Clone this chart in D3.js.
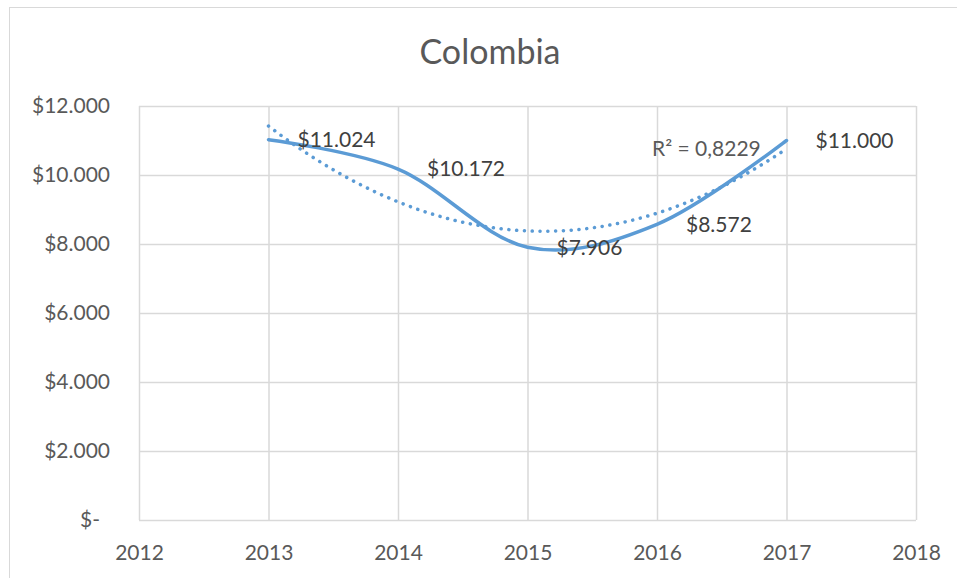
<!DOCTYPE html>
<html>
<head>
<meta charset="utf-8">
<script src="https://cdn.jsdelivr.net/npm/d3@7"></script>
<style>
  body { margin: 0; background: #fff; }
  text { font-family: Lato, "Liberation Sans", sans-serif; fill: #595959; }
</style>
</head>
<body>
<script>
var years = [2013, 2014, 2015, 2016, 2017];
var values = [11024, 10172, 7906, 8572, 11000];
var labels = ["$11.024", "$10.172", "$7.906", "$8.572", "$11.000"];
var yTicks = [0, 2000, 4000, 6000, 8000, 10000, 12000];
var xTicks = [2012, 2013, 2014, 2015, 2016, 2017, 2018];

var width = 957, height = 578,
    plotLeft = 139, plotRight = 916, plotTop = 106, plotBottom = 520,
    lineColor = "#5b9bd5", gridColor = "#d9d9d9";

var svg = d3.select("body").append("svg")
    .attr("width", width)
    .attr("height", height);

// chart border
svg.append("rect")
    .attr("x", 9.5).attr("y", 7.5)
    .attr("width", 980).attr("height", 620)
    .attr("fill", "none")
    .attr("stroke", gridColor);

var x = d3.scaleLinear().domain([2012, 2018]).range([plotLeft, plotRight]);
var y = d3.scaleLinear().domain([0, 12000]).range([plotBottom, plotTop]);

svg.append("text")
    .attr("x", 490).attr("y", 64)
    .attr("text-anchor", "middle")
    .style("font-size", "34px")
    .text("Colombia");

// y axis with horizontal gridlines
var yAxis = svg.append("g")
    .attr("transform", "translate(" + plotLeft + ",0)")
    .call(d3.axisLeft(y).tickValues(yTicks).tickSize(-(plotRight - plotLeft)).tickPadding(29)
      .tickFormat(function(d) { return d === 0 ? "$-" : "$" + d3.format(",")(d).replace(",", "."); }));
yAxis.select(".domain").remove();
yAxis.selectAll(".tick line").attr("stroke", gridColor).attr("stroke-width", 1.5);
yAxis.selectAll(".tick text").style("font-size", "21px").attr("fill", "#595959")
    .attr("x", function(d) { return d === 0 ? -39 : -29; });

// x axis with vertical gridlines
var xAxis = svg.append("g")
    .attr("transform", "translate(0," + plotBottom + ")")
    .call(d3.axisBottom(x).tickValues(xTicks).tickSize(-(plotBottom - plotTop)).tickPadding(0)
      .tickFormat(d3.format("d")));
xAxis.select(".domain").remove();
xAxis.selectAll(".tick line").attr("stroke", gridColor).attr("stroke-width", 1.5);
xAxis.selectAll(".tick text").style("font-size", "21px").attr("fill", "#595959")
    .attr("y", 40).attr("dy", 0);

// quadratic trendline from least squares fit
var idx = years.map(function(d, i) { return i + 1; }),
    mx = d3.mean(idx), my = d3.mean(values),
    p1 = idx.map(function(t) { return t - mx; }),
    s2 = d3.mean(p1.map(function(t) { return t * t; })),
    p2 = p1.map(function(t) { return t * t - s2; }),
    b1 = d3.sum(values.map(function(v, i) { return v * p1[i]; })) / d3.sum(p1.map(function(t) { return t * t; })),
    b2 = d3.sum(values.map(function(v, i) { return v * p2[i]; })) / d3.sum(p2.map(function(t) { return t * t; }));
function fit(t) { return my + b1 * (t - mx) + b2 * ((t - mx) * (t - mx) - s2); }
var ssTot = d3.sum(values.map(function(v) { return (v - my) * (v - my); })),
    ssRes = d3.sum(values.map(function(v, i) { return (v - fit(idx[i])) * (v - fit(idx[i])); })),
    r2 = 1 - ssRes / ssTot;

var trend = d3.range(1, 5.0001, 0.05).map(function(t) { return [years[0] + t - 1, fit(t)]; });

svg.append("path")
    .datum(trend)
    .attr("fill", "none")
    .attr("stroke", lineColor)
    .attr("stroke-width", 3.5)
    .attr("stroke-linecap", "round")
    .attr("stroke-dasharray", "0.1 7.7")
    .attr("d", d3.line().x(function(d) { return x(d[0]); }).y(function(d) { return y(d[1]); }));

// smoothed series line
svg.append("path")
    .datum(years.map(function(d, i) { return [d, values[i]]; }))
    .attr("fill", "none")
    .attr("stroke", lineColor)
    .attr("stroke-width", 3.5)
    .attr("stroke-linecap", "round")
    .attr("d", d3.line().curve(d3.curveCardinal.tension(0))
      .x(function(d) { return x(d[0]); }).y(function(d) { return y(d[1]); }));

// data labels
svg.selectAll(".label")
    .data(years)
    .enter().append("text")
    .attr("class", "label")
    .attr("x", function(d) { return x(d) + 29; })
    .attr("y", function(d, i) { return y(values[i]); })
    .attr("dy", "0.35em")
    .style("font-size", "21px")
    .style("fill", "#404040")
    .text(function(d, i) { return labels[i]; });

svg.append("text")
    .attr("x", 652).attr("y", 149)
    .attr("dy", "0.35em")
    .style("font-size", "21px")
    .text("R² = " + r2.toFixed(4).replace(".", ","));
</script>
</body>
</html>
